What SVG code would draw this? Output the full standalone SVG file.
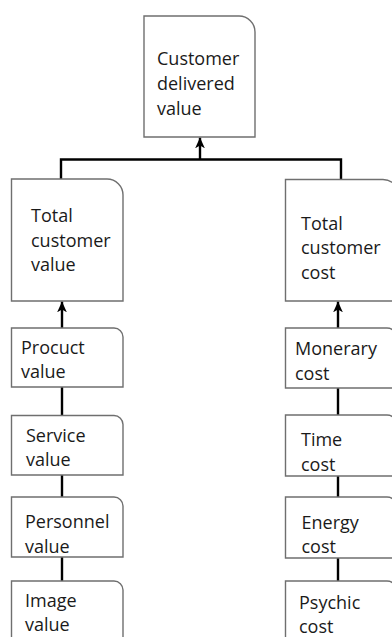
<svg xmlns="http://www.w3.org/2000/svg" width="392" height="637" viewBox="0 0 392 637">
  <style>
    .box { fill: #ffffff; stroke: #6f6f6f; stroke-width: 1.4; }
    .lbl { font-family: "Open Sans", "Noto Sans", sans-serif; font-size: 18px; fill: #1a1a1a; }
    .wire { fill: none; stroke: #000000; stroke-width: 2.4; }
  </style>
  <defs>
    <marker id="head" viewBox="0 0 10 10" refX="10" refY="5" markerWidth="4.5" markerHeight="4.5" orient="auto" markerUnits="strokeWidth">
      <path d="M0,0.5 L10,5 L0,9.5 L2.5,5 Z" fill="#000000"/>
    </marker>
  </defs>
  <rect width="392" height="637" fill="#ffffff"/>

  <!-- connectors -->
  <g id="connectors">
    <polyline class="wire" points="61,179 61,159.5 341,159.5 341,180"/>
    <line class="wire" x1="200" y1="159.5" x2="200" y2="137.5" marker-end="url(#head)"/>
    <line class="wire" x1="62" y1="328" x2="62" y2="301.5" marker-end="url(#head)"/>
    <line class="wire" x1="338" y1="328" x2="338" y2="301.5" marker-end="url(#head)"/>
    <line class="wire" x1="62" y1="387" x2="62" y2="415.5"/>
    <line class="wire" x1="62" y1="475" x2="62" y2="497"/>
    <line class="wire" x1="62" y1="557" x2="62" y2="581"/>
    <line class="wire" x1="338" y1="388" x2="338" y2="415"/>
    <line class="wire" x1="338" y1="476" x2="338" y2="497"/>
    <line class="wire" x1="338" y1="558" x2="338" y2="581"/>
  </g>

  <!-- top -->
  <g id="customer-delivered-value">
    <path class="box" d="M144,16 H239 A16,16 0 0 1 255,32 V137 H144 Z"/>
    <text class="lbl" x="157" y="65">Customer</text>
    <text class="lbl" x="157" y="90">delivered</text>
    <text class="lbl" x="157" y="115">value</text>
  </g>

  <!-- value branch -->
  <g id="total-customer-value">
    <path class="box" d="M11.5,179 H107 A16,16 0 0 1 123,195 V301 H11.5 Z"/>
    <text class="lbl" x="31" y="222">Total</text>
    <text class="lbl" x="31" y="246.5">customer</text>
    <text class="lbl" x="31" y="271">value</text>
  </g>
  <g id="product-value">
    <path class="box" d="M11.5,328 H114 A9,9 0 0 1 123,337 V387 H11.5 Z"/>
    <text class="lbl" x="21" y="353.5">Procuct</text>
    <text class="lbl" x="21" y="378">value</text>
  </g>
  <g id="service-value">
    <path class="box" d="M11.5,415.5 H114 A9,9 0 0 1 123,424.5 V475 H11.5 Z"/>
    <text class="lbl" x="26" y="441.5">Service</text>
    <text class="lbl" x="26" y="466">value</text>
  </g>
  <g id="personnel-value">
    <path class="box" d="M11.5,497 H114 A9,9 0 0 1 123,506 V557 H11.5 Z"/>
    <text class="lbl" x="25" y="528">Personnel</text>
    <text class="lbl" x="25" y="552.5">value</text>
  </g>
  <g id="image-value">
    <path class="box" d="M11.5,581 H114 A9,9 0 0 1 123,590 V650 H11.5 Z"/>
    <text class="lbl" x="25" y="606.5">Image</text>
    <text class="lbl" x="25" y="631">value</text>
  </g>

  <!-- cost branch -->
  <g id="total-customer-cost">
    <path class="box" d="M285.5,179.5 H383 A16,16 0 0 1 399,195.5 V301 H285.5 Z"/>
    <text class="lbl" x="301" y="229.5">Total</text>
    <text class="lbl" x="301" y="254">customer</text>
    <text class="lbl" x="301" y="278.5">cost</text>
  </g>
  <g id="monetary-cost">
    <path class="box" d="M285.5,328 H387 A10,10 0 0 1 397,338 V388 H285.5 Z"/>
    <text class="lbl" x="295" y="355">Monerary</text>
    <text class="lbl" x="295" y="379.5">cost</text>
  </g>
  <g id="time-cost">
    <path class="box" d="M285.5,415 H387 A10,10 0 0 1 397,425 V476 H285.5 Z"/>
    <text class="lbl" x="301" y="446">Time</text>
    <text class="lbl" x="301" y="470.5">cost</text>
  </g>
  <g id="energy-cost">
    <path class="box" d="M285.5,497 H387 A10,10 0 0 1 397,507 V558 H285.5 Z"/>
    <text class="lbl" x="301.5" y="528.5">Energy</text>
    <text class="lbl" x="301.5" y="553">cost</text>
  </g>
  <g id="psychic-cost">
    <path class="box" d="M285.5,581 H387 A10,10 0 0 1 397,591 V650 H285.5 Z"/>
    <text class="lbl" x="299" y="608.5">Psychic</text>
    <text class="lbl" x="299" y="633">cost</text>
  </g>
</svg>
